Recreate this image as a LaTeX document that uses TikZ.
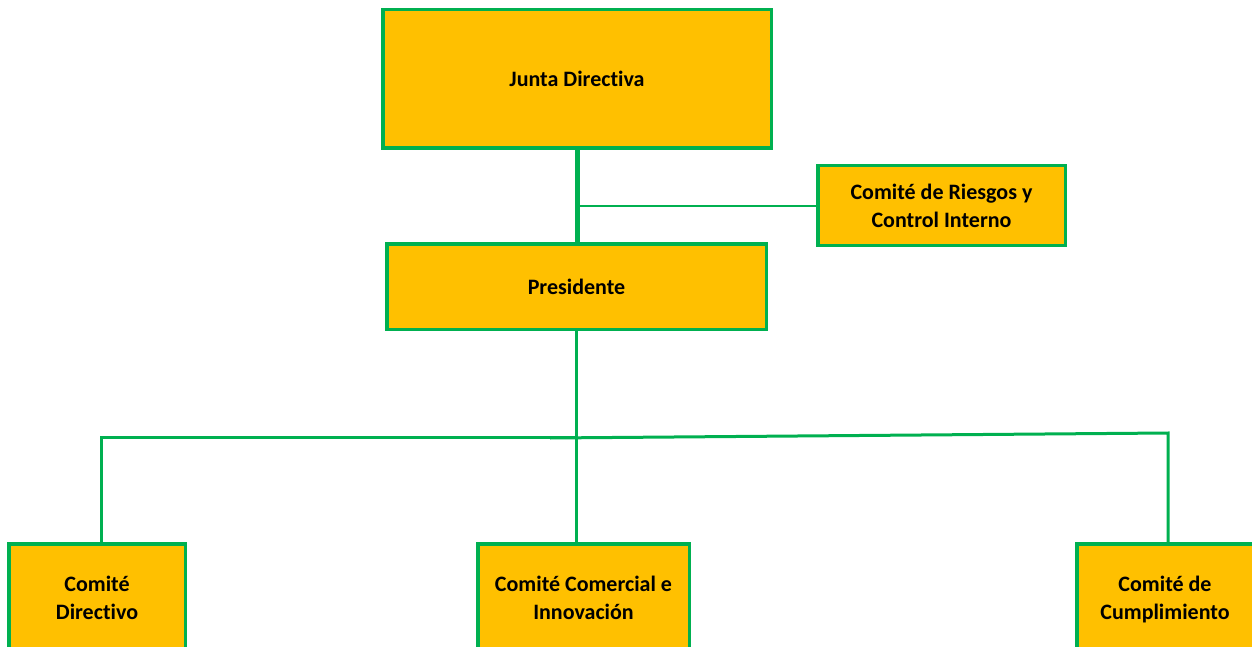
\documentclass[tikz,border=0pt]{standalone}
\usepackage{fontspec}
\setmainfont{Carlito}[RawFeature=-liga]
\definecolor{orggreen}{HTML}{00B050}
\definecolor{orgyellow}{HTML}{FFC000}
\tikzset{
    orgbox/.style={draw=orggreen, fill=orgyellow, line width=3.5pt, align=center,
        inner sep=0pt, font=\bfseries\fontsize{22}{28}\selectfont},
    orgline/.style={draw=orggreen, line width=3pt}
}
\begin{document}
\begin{tikzpicture}[x=1pt,y=-1pt]
    \useasboundingbox (0,0) rectangle (1252,647);
    \clip (0,0) rectangle (1252,647);
    % boxes
    \node[orgbox, minimum width=388.5pt, minimum height=138.5pt] (junta) at (577,79) {Junta Directiva};
    \node[orgbox, minimum width=247.5pt, minimum height=79.5pt] (riesgos) at (941.5,205.5) {Comité de Riesgos y\\Control Interno};
    \node[orgbox, minimum width=379.5pt, minimum height=85.5pt] (presi) at (576.5,286.5) {Presidente};
    \node[orgbox, minimum width=176.5pt, minimum height=108.5pt] (comdir) at (97,598) {Comité\\Directivo};
    \node[orgbox, minimum width=211.5pt, minimum height=108.5pt] (comcom) at (583.5,598) {Comité Comercial e\\Innovación};
    \node[orgbox, minimum width=176.5pt, minimum height=108.5pt, text depth=0pt] (comcum) at (1165,598) {Comité de\\Cumplimiento};
    % junction points
    \coordinate (bus) at (577,437);
    \coordinate (busL) at (101,437);
    \coordinate (busM) at (550,438);
    \coordinate (busR) at (1168,433);
    % connectors
    \draw[orgline, line width=5pt] (junta.south) -- (junta.south |- presi.north);
    \draw[orgline, line width=2pt] (junta.south |- riesgos.west) -- (riesgos.west);
    \draw[orgline] (presi.south) -- (presi.south |- comcom.north);
    \draw[orgline] (comdir.north -| busL) -- (busL) -- (bus);
    \draw[orgline] (busM) -- (busR) -- (busR |- comcum.north);
\end{tikzpicture}
\end{document}
